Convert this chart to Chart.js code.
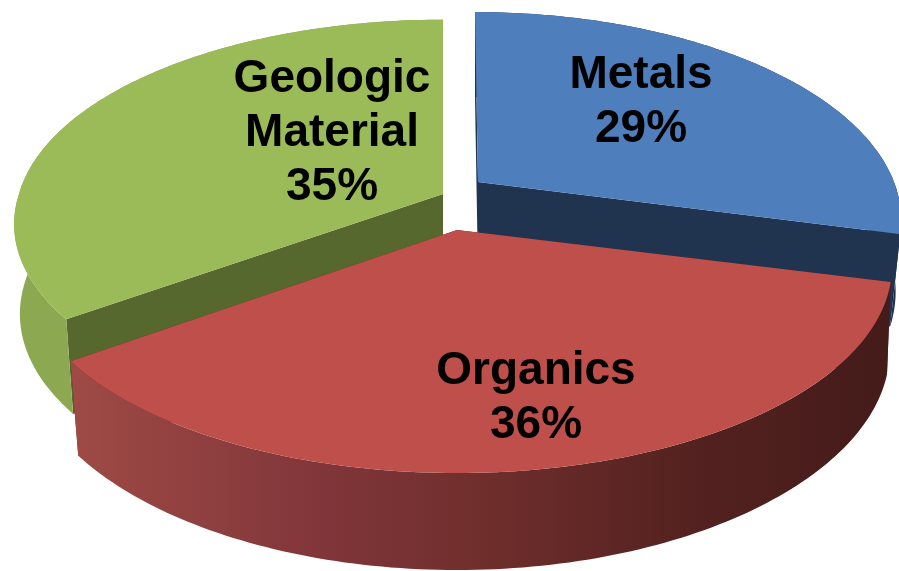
<!DOCTYPE html>
<html>
<head>
  <title>Composition pie</title>
  <script src="https://cdn.jsdelivr.net/npm/chart.js"></script>
  <style>
    html, body { margin: 0; padding: 0; background: #fff; }
    canvas { display: block; }
  </style>
</head>
<body>
  <canvas id="pie" width="899" height="571"></canvas>
  <script>
    // chart values
    const categories = ['Metals', 'Organics', 'Geologic Material'];
    const shares = [29, 36, 35];

    // colours, same order as categories
    const topColors = ['#4e7fbc', '#bf4f4b', '#9bbb59'];
    const wallColors = ['#20344f', '#5a2421', '#56682e'];
    const sideStops = [
      [[0, '#20344f'], [1, '#20344f']],
      [[0, '#9f4a45'], [0.3, '#81363a'], [0.5, '#6f2e2c'], [0.75, '#542220'], [1, '#431b19']],
      [[0, '#8ca851'], [1, '#86a24c']]
    ];

    // where each exploded slice sits on the page
    const apex = [[478, 182], [457, 230], [443, 194]];
    const radiusX = [416, 428, 424];
    const radiusY = [200, 200, 197];
    const tilt = [0.177, 0.177, 0.13]; // perspective strength
    const leanBack = [3, 0, 0];
    const leanFront = [3, 0, -9];
    const pull = [0, 0, 0.012]; // bottom face is a bit smaller than the top
    const narrow = [0.096, 0.034, 0.01]; // and pulls in more towards the front
    const labelSpots = [[641, 88], [536, 384], [332, 92]];
    const lineHeight = 54;

    // disc point -> page point, with optional drop down to the bottom face
    function project(i, angle, r, bottom) {
      const u = Math.cos(angle) * r;
      const v = Math.sin(angle) * r;
      const w = 1 - tilt[i] * v;
      let x = radiusX[i] * u / w + (v > 0 ? leanFront[i] : leanBack[i]) * v;
      let y = radiusY[i] * v / w;
      if (bottom) {
        x *= 1 - pull[i] - narrow[i] * Math.max(v, 0);
        y += 91 + 6 * v;
      }
      return [apex[i][0] + x, apex[i][1] + y];
    }

    function polygon(ctx, pts, fill) {
      ctx.beginPath();
      pts.forEach((p, n) => (n ? ctx.lineTo(p[0], p[1]) : ctx.moveTo(p[0], p[1])));
      ctx.closePath();
      ctx.fillStyle = fill;
      ctx.fill();
    }

    function drawSlice(ctx, arc, i) {
      const steps = 120;
      const rim = [];
      const rimLow = [];
      for (let s = 0; s <= steps; s++) {
        const a = arc.startAngle + (arc.endAngle - arc.startAngle) * s / steps;
        rim.push(project(i, a, 1, false));
        rimLow.push(project(i, a, 1, true));
      }

      // cut faces
      const c = project(i, 0, 0, false);
      const cLow = project(i, 0, 0, true);
      polygon(ctx, [c, rim[0], rimLow[0], cLow], wallColors[i]);
      polygon(ctx, [c, rim[steps], rimLow[steps], cLow], wallColors[i]);

      // outer side
      const grad = ctx.createLinearGradient(70, 0, 895, 0);
      sideStops[i].forEach(st => grad.addColorStop(st[0], st[1]));
      polygon(ctx, rim.concat(rimLow.slice().reverse()), grad);

      // top face
      polygon(ctx, [c].concat(rim), arc.options.backgroundColor);
    }

    const tiltedPie = {
      id: 'tiltedPie',
      beforeDatasetDraw() {
        return false; // slices are painted below, back ones first
      },
      afterDatasetsDraw(chart) {
        const ctx = chart.ctx;
        const arcs = chart.getDatasetMeta(0).data;
        ctx.save();
        [0, 2, 1].forEach(i => drawSlice(ctx, arcs[i], i));

        ctx.fillStyle = '#000';
        ctx.font = 'bold 46px "Liberation Sans", Arial, sans-serif';
        ctx.textAlign = 'center';
        ctx.textBaseline = 'alphabetic';
        categories.forEach((name, i) => {
          const lines = name.split(' ').concat(shares[i] + '%');
          lines.forEach((t, n) => {
            ctx.fillText(t, labelSpots[i][0], labelSpots[i][1] + n * lineHeight);
          });
        });
        ctx.restore();
      }
    };

    new Chart(document.getElementById('pie').getContext('2d'), {
      type: 'pie',
      data: {
        labels: categories,
        datasets: [{
          data: shares,
          backgroundColor: topColors,
          borderWidth: 0
        }]
      },
      options: {
        responsive: false,
        animation: false,
        plugins: {
          legend: { display: false },
          tooltip: { enabled: false }
        }
      },
      plugins: [tiltedPie]
    });
  </script>
</body>
</html>
